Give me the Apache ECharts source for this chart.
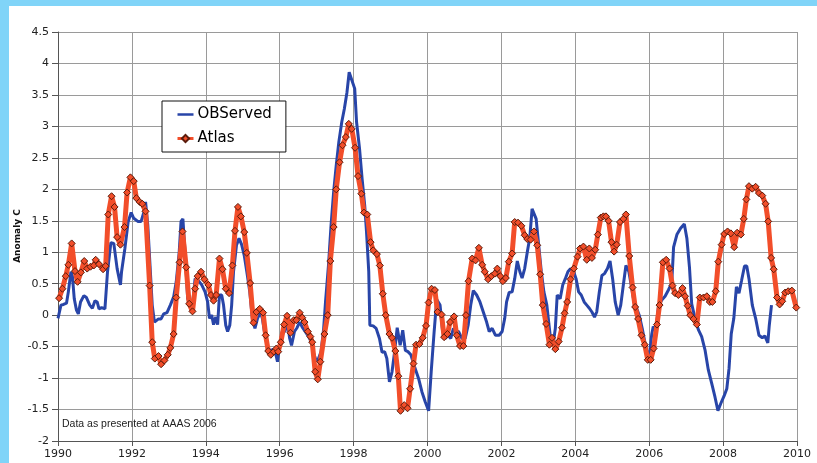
<!DOCTYPE html>
<html>
<head>
<meta charset="utf-8">
<script src="https://cdn.jsdelivr.net/npm/echarts@6/dist/echarts.min.js"></script>
<style>
html,body{margin:0;padding:0;background:#fff;}
#c{width:817px;height:463px;}
</style>
</head>
<body>
<div id="c"></div>
<script>
// ---- Data ----
var xTicks = [1990, 1992, 1994, 1996, 1998, 2000, 2002, 2004, 2006, 2008, 2010];
var yTicks = [-2, -1.5, -1, -0.5, 0, 0.5, 1, 1.5, 2, 2.5, 3, 3.5, 4, 4.5];

var atlasYears = [
1990.03,1990.12,1990.21,1990.28,1990.37,1990.46,1990.53,1990.62,1990.71,1990.79,1990.88,1990.97,
1991.02,1991.11,1991.22,1991.29,1991.36,1991.45,1991.53,1991.60,1991.69,1991.80,1991.87,1991.96,
1992.05,1992.12,1992.21,1992.28,1992.37,1992.48,1992.55,1992.62,1992.72,1992.79,1992.88,1992.97,
1993.04,1993.13,1993.20,1993.29,1993.37,1993.47,1993.55,1993.64,1993.71,1993.78,1993.87,1993.96,
1994.07,1994.14,1994.21,1994.28,1994.37,1994.45,1994.54,1994.63,1994.72,1994.79,1994.87,1994.95,
1995.04,1995.11,1995.20,1995.29,1995.37,1995.46,1995.55,1995.62,1995.69,1995.76,1995.84,1995.91,
1995.96,1996.03,1996.12,1996.20,1996.29,1996.38,1996.45,1996.54,1996.61,1996.67,1996.76,1996.83,
1996.88,1996.96,1997.03,1997.10,1997.21,1997.30,1997.37,1997.46,1997.53,1997.62,1997.70,1997.79,
1997.87,1997.95,1998.04,1998.12,1998.21,1998.28,1998.37,1998.46,1998.53,1998.63,1998.71,1998.79,
1998.87,1998.97,1999.04,1999.13,1999.21,1999.27,1999.37,1999.46,1999.53,1999.62,1999.69,1999.78,
1999.87,1999.96,2000.03,2000.11,2000.20,2000.27,2000.38,2000.45,2000.54,2000.61,2000.72,2000.79,
2000.88,2000.97,2001.04,2001.11,2001.21,2001.30,2001.39,2001.48,2001.55,2001.64,2001.73,2001.82,
2001.89,2001.97,2002.04,2002.12,2002.20,2002.29,2002.36,2002.45,2002.54,2002.63,2002.70,2002.79,
2002.88,2002.97,2003.05,2003.12,2003.21,2003.30,2003.37,2003.46,2003.55,2003.64,2003.71,2003.78,
2003.87,2003.96,2004.06,2004.13,2004.22,2004.31,2004.38,2004.45,2004.54,2004.61,2004.69,2004.76,
2004.83,2004.90,2004.98,2005.05,2005.12,2005.21,2005.30,2005.37,2005.46,2005.55,2005.62,2005.70,
2005.79,2005.88,2005.96,2006.04,2006.12,2006.21,2006.28,2006.37,2006.46,2006.55,2006.63,2006.70,
2006.79,2006.90,2006.97,2007.04,2007.11,2007.20,2007.29,2007.37,2007.47,2007.56,2007.64,2007.71,
2007.80,2007.87,2007.96,2008.03,2008.12,2008.21,2008.30,2008.38,2008.48,2008.56,2008.63,2008.70,
2008.79,2008.88,2008.97,2009.06,2009.15,2009.22,2009.30,2009.37,2009.46,2009.53,2009.60,2009.68,
2009.76,2009.86,2009.98
];
var atlasValues = [
0.27,0.42,0.62,0.80,1.14,0.70,0.53,0.68,0.86,0.74,0.77,0.79,
0.88,0.81,0.73,0.78,1.60,1.89,1.72,1.24,1.12,1.40,1.95,2.19,
2.13,1.86,1.80,1.77,1.65,0.47,-0.43,-0.69,-0.65,-0.78,-0.72,-0.63,
-0.52,-0.30,0.28,0.84,1.33,0.76,0.18,0.06,0.42,0.62,0.69,0.57,
0.48,0.32,0.23,0.32,0.90,0.73,0.42,0.35,0.79,1.34,1.72,1.57,
1.32,0.99,0.51,-0.12,0.05,0.10,0.04,-0.32,-0.57,-0.63,-0.58,-0.53,
-0.58,-0.43,-0.15,-0.01,-0.28,-0.08,-0.08,0.04,-0.04,-0.11,-0.26,-0.34,
-0.43,-0.90,-1.02,-0.74,-0.30,0.00,0.86,1.40,2.00,2.43,2.70,2.83,
3.04,2.96,2.66,2.21,1.93,1.63,1.60,1.16,1.03,0.97,0.79,0.34,
0.00,-0.30,-0.36,-0.57,-0.97,-1.52,-1.43,-1.48,-1.17,-0.77,-0.47,-0.46,
-0.36,-0.17,0.20,0.42,0.40,0.05,0.01,-0.35,-0.30,-0.11,-0.02,-0.32,
-0.49,-0.49,0.00,0.54,0.90,0.87,1.07,0.80,0.69,0.57,0.62,0.66,
0.74,0.62,0.54,0.59,0.85,0.98,1.48,1.47,1.42,1.27,1.21,1.20,
1.33,1.11,0.65,0.16,-0.14,-0.47,-0.36,-0.54,-0.42,-0.20,0.03,0.21,
0.57,0.74,0.93,1.06,1.09,0.88,1.06,0.91,1.04,1.28,1.55,1.57,
1.57,1.50,1.16,1.01,1.12,1.48,1.53,1.60,0.94,0.44,0.13,-0.06,
-0.32,-0.47,-0.71,-0.71,-0.53,-0.15,0.16,0.84,0.88,0.74,0.47,0.35,
0.32,0.43,0.30,0.15,0.00,-0.06,-0.15,0.28,0.28,0.30,0.21,0.21,
0.38,0.85,1.12,1.29,1.33,1.30,1.08,1.31,1.28,1.53,1.84,2.05,
2.01,2.04,1.94,1.90,1.77,1.49,0.91,0.73,0.28,0.17,0.22,0.36,
0.38,0.39,0.12
];

var obsYears = [
1990.00,1990.08,1990.15,1990.23,1990.28,1990.35,1990.39,1990.44,1990.50,1990.55,1990.61,1990.70,
1990.77,1990.86,1990.93,1991.00,1991.06,1991.11,1991.18,1991.27,1991.34,1991.43,1991.51,1991.60,
1991.69,1991.72,1991.81,1991.90,1991.98,1992.05,1992.16,1992.25,1992.32,1992.37,1992.43,1992.50,
1992.55,1992.61,1992.66,1992.72,1992.79,1992.86,1992.95,1993.04,1993.13,1993.20,1993.28,1993.33,
1993.38,1993.44,1993.51,1993.58,1993.64,1993.71,1993.80,1993.89,1993.98,
1994.05,1994.10,1994.16,1994.21,1994.27,1994.32,1994.37,1994.43,1994.48,1994.54,1994.59,1994.65,
1994.70,1994.75,1994.83,1994.90,1994.97,1995.04,1995.11,1995.19,1995.26,1995.33,1995.40,1995.48,
1995.53,1995.58,1995.66,1995.75,1995.82,1995.89,1995.94,1996.00,1996.07,1996.14,1996.21,1996.27,
1996.32,1996.40,1996.47,1996.54,1996.61,1996.68,1996.76,1996.85,1996.92,1996.99,1997.05,1997.12,
1997.19,1997.24,1997.32,1997.39,1997.46,1997.53,1997.60,1997.68,1997.75,1997.82,1997.88,1997.93,
1998.03,1998.08,1998.16,1998.23,1998.30,1998.35,1998.41,1998.44,1998.53,1998.61,1998.70,1998.77,
1998.84,1998.90,1998.97,1999.04,1999.11,1999.18,1999.26,1999.33,1999.40,1999.47,1999.55,1999.65,
1999.76,1999.85,1999.94,2000.03,2000.10,2000.18,2000.25,2000.34,2000.41,2000.48,2000.56,2000.63,
2000.70,2000.77,2000.84,2000.93,2001.02,2001.10,2001.17,2001.24,2001.33,2001.42,2001.51,2001.60,
2001.67,2001.75,2001.84,2001.94,
2002.02,2002.09,2002.14,2002.21,2002.29,2002.36,2002.43,2002.50,2002.56,2002.63,2002.70,2002.77,
2002.83,2002.88,2002.94,2003.01,2003.08,2003.15,2003.23,2003.28,2003.33,2003.41,2003.46,2003.51,
2003.59,2003.66,2003.73,2003.80,2003.87,2003.95,2004.02,2004.09,2004.16,2004.24,2004.31,2004.38,
2004.45,2004.52,2004.58,2004.65,2004.72,2004.79,2004.87,2004.94,2005.01,2005.08,2005.16,2005.23,
2005.30,2005.37,2005.45,2005.52,2005.59,2005.66,2005.73,2005.81,2005.88,2005.95,2006.00,2006.07,
2006.11,2006.18,2006.25,2006.34,2006.43,2006.52,2006.61,2006.66,2006.75,2006.85,2006.95,2007.02,
2007.09,2007.15,2007.24,2007.33,2007.42,2007.51,2007.60,2007.69,2007.78,2007.86,2007.94,2008.03,
2008.10,2008.16,2008.22,2008.29,2008.36,2008.43,2008.50,2008.58,2008.64,2008.70,2008.79,2008.88,
2008.97,2009.06,2009.13,2009.21,2009.25,2009.31
];
var obsValues = [
-0.05,0.16,0.17,0.19,0.37,0.69,0.62,0.26,0.08,0.02,0.21,0.31,
0.28,0.16,0.11,0.23,0.21,0.10,0.12,0.10,0.69,1.15,1.14,0.74,
0.48,0.69,1.06,1.49,1.63,1.54,1.49,1.49,1.63,1.80,1.43,0.69,
0.16,-0.11,-0.13,-0.06,-0.06,0.02,0.04,0.16,0.29,0.53,1.00,1.49,
1.53,1.00,0.26,0.16,0.16,0.58,0.55,0.48,0.37,
0.21,-0.05,0.00,-0.15,-0.03,-0.15,0.32,0.32,0.16,-0.16,-0.26,-0.16,
0.16,0.69,1.11,1.22,1.12,0.95,0.69,0.37,-0.05,-0.21,-0.05,0.04,
-0.05,-0.24,-0.48,-0.58,-0.54,-0.61,-0.74,-0.48,-0.26,-0.26,-0.11,-0.37,
-0.48,-0.26,-0.20,-0.11,-0.19,-0.25,-0.32,-0.42,-0.61,-0.73,-0.69,-0.58,
-0.21,0.21,0.79,1.43,1.96,2.38,2.75,3.07,3.28,3.54,3.86,3.89,
3.60,3.07,2.65,2.17,1.75,1.32,0.69,-0.16,-0.17,-0.21,-0.37,-0.59,
-0.58,-0.69,-1.06,-0.90,-0.58,-0.20,-0.48,-0.24,-0.56,-0.58,-0.63,-0.82,
-1.01,-1.22,-1.38,-1.52,-0.90,-0.26,0.25,0.16,-0.26,-0.37,-0.32,-0.37,
-0.21,-0.26,-0.26,-0.37,-0.37,-0.16,0.16,0.39,0.32,0.21,0.05,-0.11,
-0.26,-0.21,-0.32,-0.32,
-0.26,-0.05,0.21,0.36,0.37,0.58,0.86,0.69,0.59,0.74,1.00,1.24,
1.69,1.66,1.53,1.11,0.69,0.37,0.16,-0.11,-0.37,-0.42,-0.21,0.32,
0.26,0.48,0.58,0.69,0.74,0.70,0.58,0.37,0.32,0.21,0.16,0.11,
0.05,-0.03,0.05,0.37,0.63,0.66,0.74,0.86,0.58,0.21,0.00,0.16,
0.48,0.79,0.69,0.45,0.21,0.11,0.00,-0.21,-0.42,-0.61,-0.66,-0.30,
-0.18,-0.25,0.14,0.24,0.30,0.40,0.51,1.08,1.28,1.38,1.45,1.22,
0.76,0.18,-0.05,-0.23,-0.34,-0.55,-0.87,-1.08,-1.30,-1.52,-1.40,-1.28,
-1.17,-0.85,-0.30,-0.05,0.45,0.35,0.55,0.78,0.78,0.58,0.16,-0.05,
-0.32,-0.36,-0.33,-0.44,-0.16,0.16
];

function pairs(xs, ys) {
  var out = [];
  for (var i = 0; i < xs.length && i < ys.length; i++) out.push([xs[i], ys[i]]);
  return out;
}

var chart = echarts.init(document.getElementById('c'), null, {renderer: 'canvas'});
var font = 'DejaVu Sans';
var frameBlue = '#80d4f8';
var blue = '#2845a8';
var red = '#f24e2a';

chart.setOption({
  backgroundColor: '#ffffff',
  animation: false,
  grid: {left: 58, right: 20, top: 32, bottom: 22, containLabel: false},
  xAxis: {
    type: 'value',
    min: xTicks[0], max: xTicks[xTicks.length - 1], interval: 2,
    axisLine: {show: true, onZero: false, lineStyle: {color: '#555', width: 1}},
    axisTick: {show: true, length: 5, lineStyle: {color: '#555'}},
    axisLabel: {
      fontFamily: font, fontSize: 11, color: '#222', margin: 8,
      formatter: function (v) { return String(v); }
    },
    splitLine: {show: true, lineStyle: {color: '#9a9a9a', width: 1}}
  },
  yAxis: {
    type: 'value',
    min: yTicks[0], max: yTicks[yTicks.length - 1], interval: 0.5,
    axisLine: {show: true, onZero: false, lineStyle: {color: '#555', width: 1}},
    axisTick: {show: true, length: 6, lineStyle: {color: '#555'}},
    axisLabel: {
      fontFamily: font, fontSize: 11, color: '#222', margin: 9,
      formatter: function (v) { return String(v); }
    },
    splitLine: {show: true, lineStyle: {color: '#9a9a9a', width: 1}}
  },
  legend: {
    orient: 'vertical',
    left: 162, top: 101,
    backgroundColor: '#fff',
    borderColor: '#111', borderWidth: 1, borderRadius: 0,
    padding: [6, 14, 6, 14],
    itemWidth: 16, itemHeight: 9, itemGap: 9,
    textStyle: {fontFamily: font, fontSize: 15, color: '#000', padding: [0, 0, 0, -1]},
    data: [
      {name: 'OBServed', lineStyle: {width: 2.5, color: blue}, itemStyle: {opacity: 0}},
      {name: 'Atlas', lineStyle: {width: 3, color: red}}
    ]
  },
  graphic: [
    {type: 'rect', silent: true, z: 100, shape: {x: 0, y: 0, width: 817, height: 6}, style: {fill: frameBlue}},
    {type: 'rect', silent: true, z: 100, shape: {x: 0, y: 0, width: 9, height: 463}, style: {fill: frameBlue}},
    {type: 'text', silent: true, z: 50, x: 18, y: 236, rotation: Math.PI / 2,
     style: {text: 'Anomaly C', font: 'bold 9px "DejaVu Sans"', fill: '#111', align: 'center', verticalAlign: 'middle'}},
    {type: 'text', silent: true, z: 50, x: 62, y: 424,
     style: {text: 'Data as presented at AAAS 2006', font: '10.5px "Liberation Sans"', fill: '#222', align: 'left', verticalAlign: 'middle'}}
  ],
  series: [
    {
      name: 'OBServed',
      type: 'line',
      data: pairs(obsYears, obsValues),
      showSymbol: false,
      symbol: 'none',
      lineStyle: {color: blue, width: 3},
      itemStyle: {color: blue},
      z: 2
    },
    {
      name: 'Atlas',
      type: 'line',
      data: pairs(atlasYears, atlasValues),
      symbol: 'diamond',
      symbolSize: 7,
      showAllSymbol: true,
      lineStyle: {color: red, width: 5},
      itemStyle: {color: red, borderColor: '#5a1c0c', borderWidth: 1},
      z: 3
    }
  ]
});
</script>
</body>
</html>
